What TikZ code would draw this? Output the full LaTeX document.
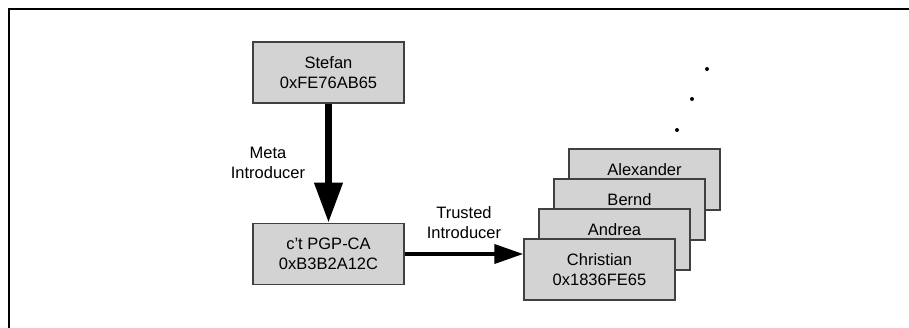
\documentclass[tikz,border=0pt]{standalone}
\usepackage{fontspec}
\setmainfont{Liberation Sans}
\usetikzlibrary{arrows.meta}
\definecolor{keygray}{RGB}{211,211,211}
\definecolor{keyline}{RGB}{64,64,64}
\begin{document}
\begin{tikzpicture}[x=1pt, y=1pt,
                    every node/.style = {align=center, font=\fontsize{16.5}{20}\selectfont},
                    keybox/.style = {draw=keyline, fill=keygray, line width=1.5pt,
                                     minimum width=151pt, minimum height=61pt, inner sep=0pt}]
  \useasboundingbox (0,0) rectangle (909,328);
  \draw[line width=2pt] (9,0) -- (9,319) -- (909,319);
  \node[keybox] (stefan) at (328.5,255.5) {Stefan\\0xFE76AB65};
  \node[keybox] (ca) at (328.5,74) {c't PGP-CA\\0xB3B2A12C};
  \node[keybox] (alexander) at (644.5,148.5) {Alexander\\~};
  \node[keybox] (bernd) at (629.5,118.5) {Bernd\\~};
  \node[keybox] (andrea) at (614.5,88.5) {Andrea\\~};
  \node[keybox] (christian) at (599.5,58.5) {Christian\\0x1836FE65};
  \node (meta) at (268,165.5) {Meta\\Introducer};
  \node (trusted) at (464,105) {Trusted\\Introducer};
  \draw[line width=7pt, -{Triangle[width=27pt, length=40pt]}] (stefan.south) -- (ca.north);
  \draw[line width=4pt, -{Triangle[width=19pt, length=29pt]}] (ca.east) -- (ca.east -| christian.west);
  \foreach \x/\y in {707/259, 692/229, 677/198}
    \fill (\x,\y) circle (2);
\end{tikzpicture}
\end{document}
